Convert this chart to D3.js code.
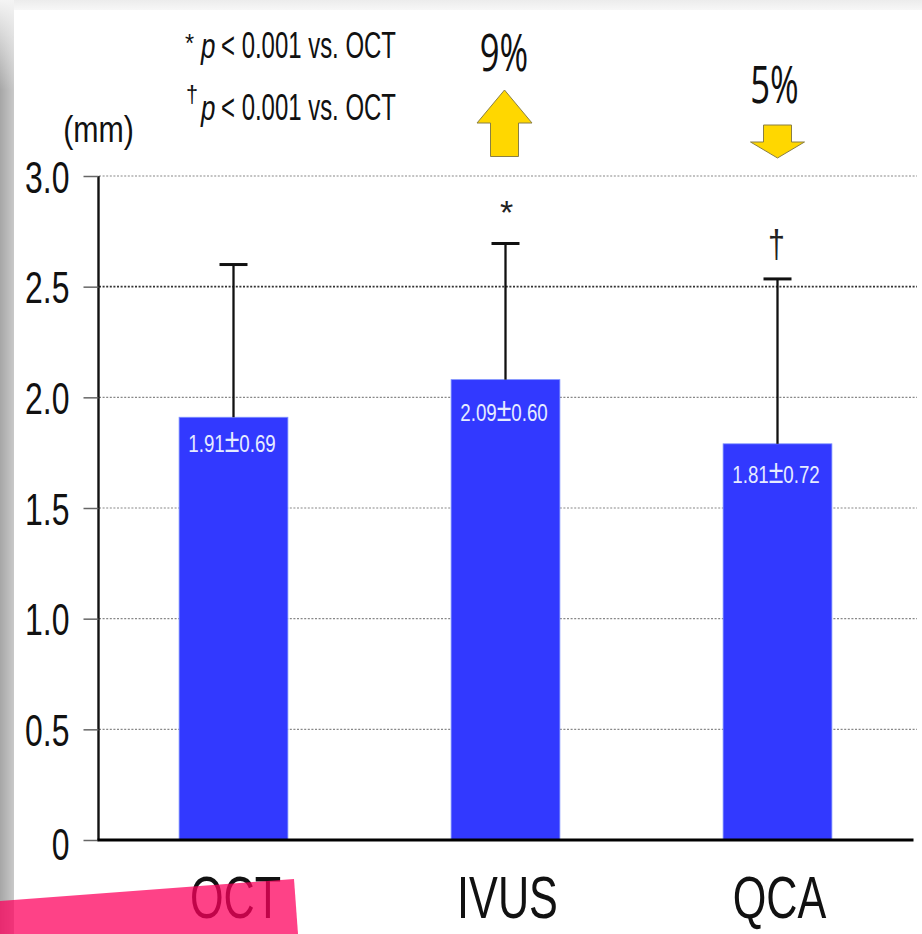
<!DOCTYPE html>
<html>
<head>
<meta charset="utf-8">
<script src="https://cdn.jsdelivr.net/npm/d3@7"></script>
<style>
html,body{margin:0;padding:0;background:#fff;overflow:hidden}
svg{display:block}
text{font-family:"Liberation Sans",Arial,sans-serif;fill:#111}
</style>
</head>
<body>
<svg id="c" width="922" height="934"></svg>
<script>
const categories = ["OCT", "IVUS", "QCA"];
const barValues = [1.91, 2.08, 1.79];
const errorTops = [2.60, 2.695, 2.535];
const barMeans = ["1.91", "2.09", "1.81"];
const barSDs = ["0.69", "0.60", "0.72"];
const barLabelBaselineOffsets = [35, 41, 39];
const significance = ["", "*", "†"];
const yTicks = [0, 0.5, 1.0, 1.5, 2.0, 2.5, 3.0];
const changeLabels = ["", "9%", "5%"];
const changeDirections = [0, 1, -1];

const svg = d3.select("#c");
const defs = svg.append("defs");
const g1 = defs.append("linearGradient").attr("id", "side").attr("x1", 0).attr("x2", 1).attr("y1", 0).attr("y2", 0);
g1.append("stop").attr("offset", 0).attr("stop-color", "#a6a6a6");
g1.append("stop").attr("offset", 1).attr("stop-color", "#c9c9c9");
const g2 = defs.append("linearGradient").attr("id", "sideFade").attr("x1", 0).attr("x2", 0).attr("y1", 0).attr("y2", 1);
g2.append("stop").attr("offset", 0).attr("stop-color", "#f4f4f4").attr("stop-opacity", 1);
g2.append("stop").attr("offset", 1).attr("stop-color", "#f4f4f4").attr("stop-opacity", 0);
const g3 = defs.append("linearGradient").attr("id", "top").attr("x1", 0).attr("x2", 0).attr("y1", 0).attr("y2", 1);
g3.append("stop").attr("offset", 0).attr("stop-color", "#ececec");
g3.append("stop").attr("offset", 1).attr("stop-color", "#f7f7f7");

svg.append("rect").attr("width", 922).attr("height", 934).attr("fill", "#fff");
svg.append("rect").attr("x", 0).attr("y", 0).attr("width", 922).attr("height", 10).attr("fill", "url(#top)");
svg.append("rect").attr("x", 0).attr("y", 0).attr("width", 14).attr("height", 934).attr("fill", "url(#side)");
svg.append("rect").attr("x", 0).attr("y", 0).attr("width", 14).attr("height", 90).attr("fill", "url(#sideFade)");

const x = d3.scaleBand().domain(categories).range([97.5, 913.5]).paddingInner(0.6).paddingOuter(0.3);
const y = d3.scaleLinear().domain([0, 3]).range([840, 176]);

// squeezed text helper: font size, horizontal scale
function label(sel, txt, px, py, size, sx, anchor, opts) {
  opts = opts || {};
  return sel.append("text")
    .attr("transform", `translate(${px},${py}) scale(${sx},1)`)
    .attr("text-anchor", anchor || "start")
    .attr("font-size", size)
    .attr("font-style", opts.italic ? "italic" : null)
    .style("font-family", opts.family || null)
    .style("fill", opts.fill || null)
    .text(txt);
}

// gridlines
svg.append("g").selectAll("line").data(yTicks.filter(d => d > 0)).join("line")
  .attr("x1", 99).attr("x2", 917)
  .attr("y1", d => y(d)).attr("y2", d => y(d))
  .attr("stroke", d => d === 2.5 ? "#333" : "#888")
  .attr("stroke-width", d => d === 2.5 ? 1.6 : 1.2)
  .attr("stroke-dasharray", "2 1.6");

// y axis through d3
const axis = svg.append("g").attr("transform", "translate(98.5,0)")
  .call(d3.axisLeft(y).tickValues(yTicks).tickSize(15).tickPadding(0)
    .tickFormat(d => d === 0 ? "0" : d3.format(".1f")(d)));
axis.select(".domain").attr("stroke", "#111").attr("stroke-width", 2.4).attr("d", `M0,${y(3)}V${y(0)}`);
axis.selectAll(".tick line").attr("stroke", "#666").attr("stroke-width", 1.5);
axis.selectAll(".tick text")
  .attr("x", null).attr("dy", null).attr("y", null)
  .attr("text-anchor", "end")
  .attr("font-size", 45)
  .attr("font-family", "'Liberation Sans',Arial,sans-serif")
  .attr("transform", d => `translate(-29,${d === 0 ? 19.5 : 16}) scale(0.71,1)`);

// bars
const barW = x.bandwidth();
svg.append("g").selectAll("rect").data(categories).join("rect")
  .attr("x", d => x(d))
  .attr("y", (d, i) => y(barValues[i]))
  .attr("width", barW)
  .attr("height", (d, i) => y(0) - y(barValues[i]))
  .attr("fill", "#3239ff")
  .attr("stroke", "#7f93ff").attr("stroke-width", 0.8);

// error bars
const err = svg.append("g").selectAll("g").data(categories).join("g");
err.append("line")
  .attr("x1", d => x(d) + barW / 2).attr("x2", d => x(d) + barW / 2)
  .attr("y1", (d, i) => y(barValues[i])).attr("y2", (d, i) => y(errorTops[i]))
  .attr("stroke", "#111").attr("stroke-width", 2.3);
err.append("line")
  .attr("x1", d => x(d) + barW / 2 - 14).attr("x2", d => x(d) + barW / 2 + 14)
  .attr("y1", (d, i) => y(errorTops[i])).attr("y2", (d, i) => y(errorTops[i]))
  .attr("stroke", "#111").attr("stroke-width", 3);

// baseline
svg.append("line").attr("x1", 97.5).attr("x2", 913.5).attr("y1", y(0)).attr("y2", y(0))
  .attr("stroke", "#000").attr("stroke-width", 3);

// labels inside bars
categories.forEach((c, i) => {
  const t = label(svg, null, x(c) + barW / 2 - 1.5, y(barValues[i]) + barLabelBaselineOffsets[i], 24, 0.78, "middle", { fill: "#e6ecff" });
  t.append("tspan").text(barMeans[i]);
  t.append("tspan").attr("font-size", 34).text("±");
  t.append("tspan").text(barSDs[i]);
});

// category labels
categories.forEach(c => {
  label(svg, c, x(c) + barW / 2 + 2, 918, 60, 0.72, "middle");
});

// significance marks
label(svg, significance[1], x("IVUS") + barW / 2 + 1, 224, 34, 1, "middle", { fill: "#222" });
label(svg, significance[2], x("QCA") + barW / 2 - 1, 257, 38, 0.8, "middle", { fill: "#222" });

// change percentages and arrows
const arrowUp = (cx) => d3.line()([[cx, 90], [cx + 27.5, 123], [cx + 14, 123], [cx + 14, 156.5], [cx - 14, 156.5], [cx - 14, 123], [cx - 27.5, 123]]) + "Z";
const arrowDown = (cx) => d3.line()([[cx - 14, 125], [cx + 14, 125], [cx + 14, 142], [cx + 27, 142], [cx, 158], [cx - 27, 142], [cx - 14, 142]]) + "Z";
categories.forEach((c, i) => {
  if (!changeDirections[i]) return;
  const up = changeDirections[i] > 0;
  const cx = x(c) + barW / 2 + (up ? -1 : 0);
  svg.append("path").attr("d", up ? arrowUp(cx) : arrowDown(cx))
    .attr("fill", "#ffd700").attr("stroke", "#8a7f45").attr("stroke-width", 1);
  label(svg, changeLabels[i], up ? 504 : 774.5, up ? 71 : 102.5, 51, 0.68, "middle",
    { family: "'Open Sans',sans-serif", fill: "#111" });
});

// notes and unit
label(svg, "(mm)", 98.5, 142, 37, 0.82, "middle");
label(svg, "*", 185, 52, 26, 0.9, "start");
label(svg, "†", 186, 103, 24, 0.9, "start");
[58, 120].forEach(b => {
  label(svg, "p", 201, b, 36, 0.72, "start", { italic: true });
  label(svg, "< 0.001 vs. OCT", 221, b, 36, 0.665, "start");
});

// pink overlay
svg.append("path").attr("d", "M0,901L294,879L298,934L0,934Z").attr("fill", "rgba(253,0,93,0.74)");
</script>
</body>
</html>
